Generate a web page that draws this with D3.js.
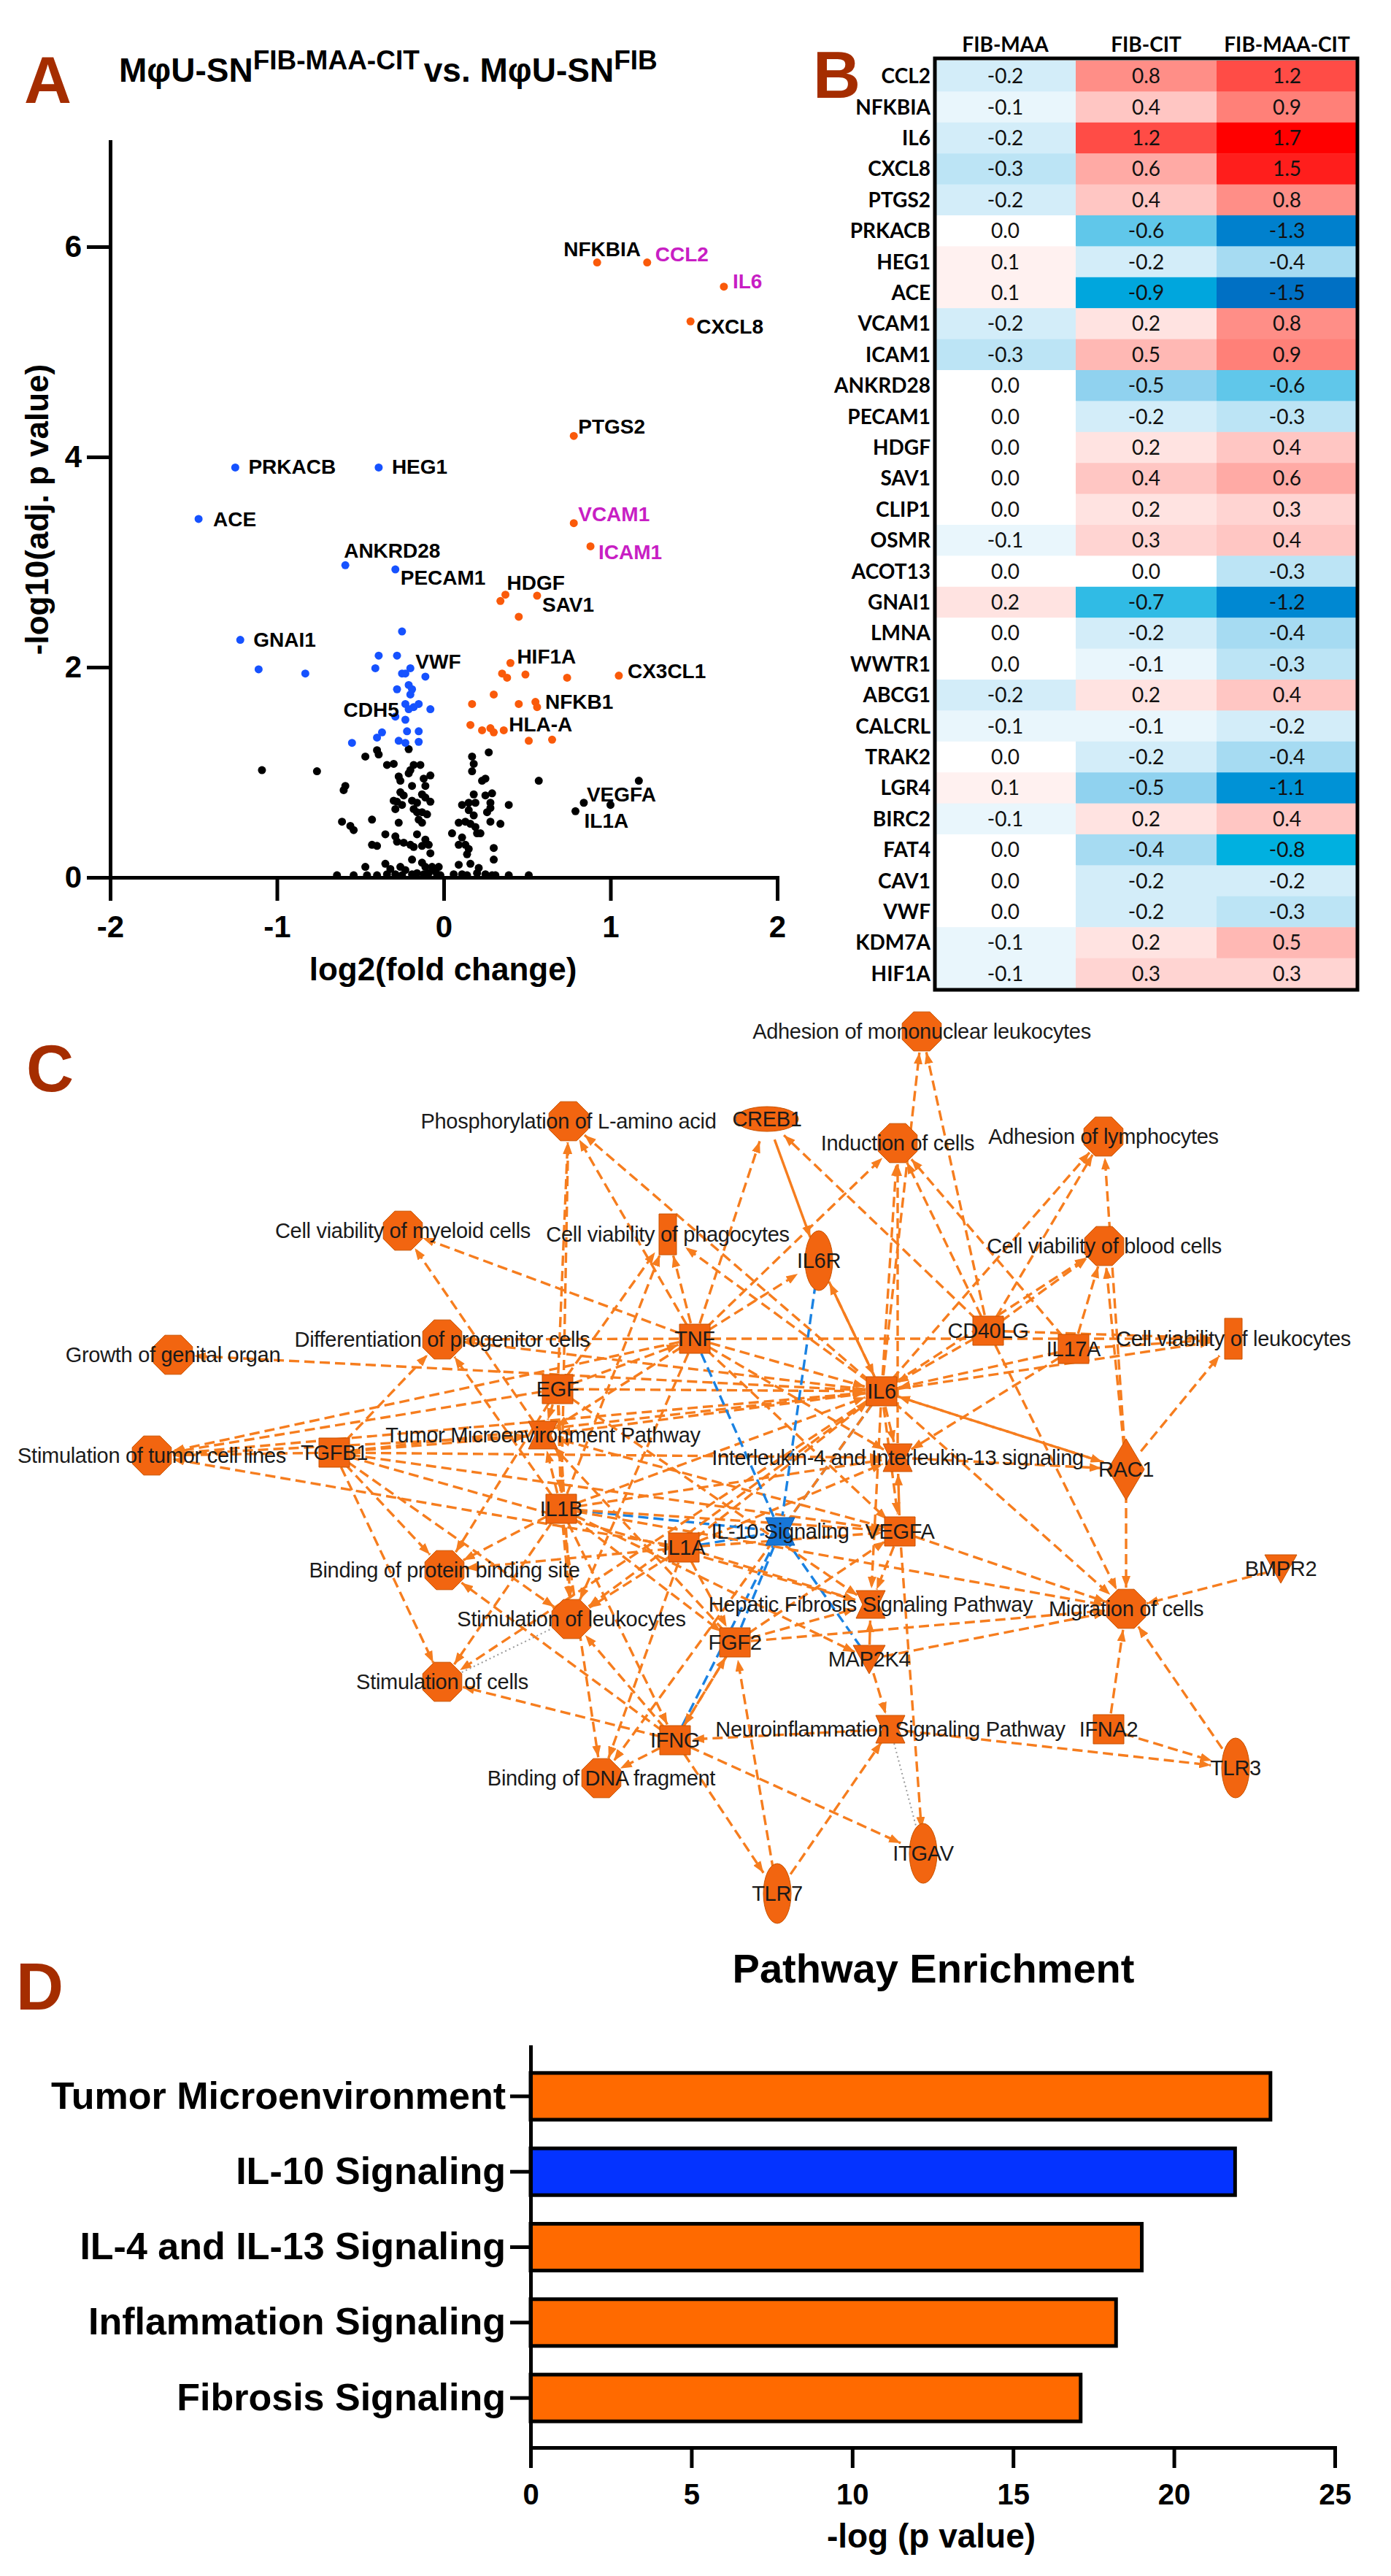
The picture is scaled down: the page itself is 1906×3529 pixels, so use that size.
<!DOCTYPE html>
<html>
<head>
<meta charset="utf-8">
<script src="https://cdn.jsdelivr.net/npm/d3@7"></script>
<style>
body{margin:0;background:#fff}
svg{display:block}
</style>
</head>
<body>
<script>
// ---------- panel A : volcano ----------
// [log2 fold change, -log10 adj p, label]
const upGenes = [
  [0.92,5.85,"NFKBIA"],[1.22,5.85,"CCL2"],[1.68,5.62,"IL6"],[1.48,5.29,"CXCL8"],
  [0.78,4.20,"PTGS2"],[0.78,3.37,"VCAM1"],[0.88,3.15,"ICAM1"],[0.37,2.69,"HDGF"],
  [0.34,2.63],[0.56,2.68,"SAV1"],[0.45,2.48],[0.40,2.04,"HIF1A"],
  [0.35,1.94],[0.38,1.90],[0.49,1.93],[0.74,1.90],[1.05,1.92,"CX3CL1"],
  [0.30,1.74],[0.17,1.65],[0.45,1.65],[0.55,1.67],[0.56,1.62,"NFKB1"],
  [0.16,1.45],[0.23,1.40],[0.28,1.42],[0.30,1.38],[0.36,1.40,"HLA-A"],
  [0.51,1.30],[0.65,1.31]
]
const downGenes = [
  [-1.25,3.90,"PRKACB"],[-0.39,3.90,"HEG1"],[-1.47,3.41,"ACE"],[-0.59,2.97,"ANKRD28"],
  [-0.29,2.93,"PECAM1"],[-0.25,2.34],[-1.22,2.26,"GNAI1"],[-0.39,2.11],[-0.28,2.11],
  [-0.41,1.99],[-0.20,1.99,"VWF"],[-0.25,1.94],[-0.23,1.94],[-0.11,1.91],
  [-1.11,1.98],[-0.83,1.94],[-0.28,1.79],[-0.21,1.83],[-0.19,1.79],[-0.20,1.74],
  [-0.23,1.65],[-0.15,1.65],[-0.18,1.62],[-0.21,1.60],[-0.08,1.60],
  [-0.29,1.53,"CDH5"],[-0.23,1.50],[-0.37,1.38],[-0.40,1.33],[-0.22,1.39],[-0.15,1.39],
  [-0.27,1.30],[-0.23,1.28],[-0.15,1.29],[-0.55,1.28]
]
const nsGenes = [
  [-1.09,1.02],[-0.76,1.01],[1.17,0.92],[0.84,0.71,"VEGFA"],[1.00,0.69],[0.79,0.63,"IL1A"],[0.57,0.92],
  [-0.47,1.15],[-0.40,1.21],[-0.39,1.17],[-0.21,1.22],[-0.34,1.07],[-0.30,1.08],[-0.18,1.07],
  [-0.14,1.07],[-0.20,1.02],[-0.21,0.99],[-0.08,0.97],[-0.27,0.96],[-0.26,0.92],[-0.12,0.94],
  [-0.11,0.87],[-0.19,0.87],[-0.59,0.87],[-0.60,0.83],[-0.26,0.81],[-0.24,0.78],[-0.30,0.73],
  [-0.28,0.72],[-0.19,0.73],[-0.16,0.71],[-0.13,0.79],[-0.11,0.76],[-0.08,0.72],[-0.29,0.65],
  [-0.25,0.69],[-0.18,0.65],[-0.16,0.62],[-0.13,0.62],[-0.10,0.60],[-0.15,0.55],[-0.13,0.52],
  [-0.61,0.53],[-0.56,0.49],[-0.54,0.45],[-0.43,0.55],[-0.27,0.52],[-0.35,0.41],[-0.29,0.39],
  [-0.16,0.41],[-0.11,0.36],[-0.09,0.31],[-0.08,0.23],[-0.28,0.34],[-0.24,0.33],[-0.20,0.31],
  [-0.18,0.29],[-0.43,0.31],[-0.40,0.30],[-0.13,0.30],[-0.19,0.17],[-0.47,0.10],[-0.35,0.13],
  [-0.32,0.08],[-0.26,0.10],[-0.23,0.07],[-0.13,0.14],[-0.11,0.10],[-0.07,0.10],[-0.05,0.06],
  [-0.03,0.10],[-0.64,0.02],[-0.54,0.02],[-0.46,0.02],[-0.40,0.02],[-0.34,0.03],[-0.29,0.03],
  [-0.25,0.02],[-0.19,0.03],[-0.16,0.04],[-0.12,0.03],[-0.09,0.04],[-0.04,0.03],[-0.02,0.02],
  [0.27,1.19],[0.17,1.15],[0.18,1.08],[0.17,1.01],[0.23,0.92],[0.25,0.94],[0.18,0.79],
  [0.25,0.78],[0.29,0.80],[0.11,0.69],[0.15,0.71],[0.19,0.71],[0.28,0.71],[0.28,0.66],
  [0.26,0.62],[0.39,0.69],[0.15,0.64],[0.18,0.59],[0.09,0.52],[0.13,0.53],[0.16,0.51],
  [0.28,0.53],[0.34,0.51],[0.19,0.48],[0.20,0.42],[0.22,0.42],[0.05,0.42],[0.11,0.38],
  [0.09,0.31],[0.13,0.31],[0.15,0.27],[0.14,0.22],[0.30,0.28],[0.30,0.17],[0.16,0.13],
  [0.09,0.12],[0.21,0.09],[0.06,0.03],[0.11,0.03],[0.14,0.02],[0.20,0.04],[0.25,0.03],
  [0.29,0.02],[0.31,0.02],[0.39,0.02],[0.51,0.02]
]
const highlightGenes = ["CCL2","IL6","VCAM1","ICAM1"]
const volcanoXTicks = [-2,-1,0,1,2]
const volcanoYTicks = [0,2,4,6]

// ---------- panel B : heatmap ----------
const heatGenes = ["CCL2","NFKBIA","IL6","CXCL8","PTGS2","PRKACB","HEG1","ACE","VCAM1","ICAM1",
  "ANKRD28","PECAM1","HDGF","SAV1","CLIP1","OSMR","ACOT13","GNAI1","LMNA","WWTR1","ABCG1",
  "CALCRL","TRAK2","LGR4","BIRC2","FAT4","CAV1","VWF","KDM7A","HIF1A"]
const heatConditions = ["FIB-MAA","FIB-CIT","FIB-MAA-CIT"]
const fibMaa    = [-0.2,-0.1,-0.2,-0.3,-0.2,0.0,0.1,0.1,-0.2,-0.3,0.0,0.0,0.0,0.0,0.0,-0.1,0.0,0.2,0.0,0.0,-0.2,-0.1,0.0,0.1,-0.1,0.0,0.0,0.0,-0.1,-0.1]
const fibCit    = [0.8,0.4,1.2,0.6,0.4,-0.6,-0.2,-0.9,0.2,0.5,-0.5,-0.2,0.2,0.4,0.2,0.3,0.0,-0.7,-0.2,-0.1,0.2,-0.1,-0.2,-0.5,0.2,-0.4,-0.2,-0.2,0.2,0.3]
const fibMaaCit = [1.2,0.9,1.7,1.5,0.8,-1.3,-0.4,-1.5,0.8,0.9,-0.6,-0.3,0.4,0.6,0.3,0.4,-0.3,-1.2,-0.4,-0.3,0.4,-0.2,-0.4,-1.1,0.4,-0.8,-0.2,-0.3,0.5,0.3]

// ---------- panel C : network ----------
// [id, label, shape]
const netNodes = [
  ["phos","Phosphorylation of L-amino acid","oct"],["creb1","CREB1","ellH"],
  ["admono","Adhesion of mononuclear leukocytes","oct"],["induc","Induction of cells","oct"],
  ["adlym","Adhesion of lymphocytes","oct"],["cvmye","Cell viability of myeloid cells","oct"],
  ["cvphag","Cell viability of phagocytes","tall"],["il6r","IL6R","ellV"],
  ["cvblood","Cell viability of blood cells","oct"],["growth","Growth of genital organ","oct"],
  ["diff","Differentiation of progenitor cells","oct"],["tnf","TNF","sq"],["cd40lg","CD40LG","sq"],
  ["il17a","IL17A","sq"],["cvleuk","Cell viability of leukocytes","tall"],["egf","EGF","sq"],
  ["il6","IL6","sq"],["stimtum","Stimulation of tumor cell lines","oct"],["tgfb1","TGFB1","sq"],
  ["tme","Tumor Microenvironment Pathway","hg"],["il413","Interleukin-4 and Interleukin-13 signaling","hg"],
  ["rac1","RAC1","dia"],["il1b","IL1B","sq"],["il1a","IL1A","sq"],["il10","IL-10 Signaling","hgBlue"],
  ["vegfa","VEGFA","sq"],["bmpr2","BMPR2","tri"],["bind","Binding of protein binding site","oct"],
  ["hepfib","Hepatic Fibrosis Signaling Pathway","hg"],["migr","Migration of cells","oct"],
  ["stimleuk","Stimulation of leukocytes","oct"],["fgf2","FGF2","sq"],["map2k4","MAP2K4","tri"],
  ["stimcells","Stimulation of cells","oct"],["neuro","Neuroinflammation Signaling Pathway","hg"],
  ["ifna2","IFNA2","sq"],["ifng","IFNG","sq"],["tlr3","TLR3","ellV"],
  ["bindDNA","Binding of DNA fragment","oct"],["itgav","ITGAV","ellV"],["tlr7","TLR7","ellV"]
]
// layout of the network drawing (panel units)
const netLayout = {
  phos:[779,166],creb1:[1051,163],admono:[1263,43],induc:[1230,196],adlym:[1512,187],
  cvmye:[552,316],cvphag:[915,321],il6r:[1122,357],cvblood:[1513,337],growth:[237,486],
  diff:[606,465],tnf:[952,464],cd40lg:[1354,453],il17a:[1471,478],cvleuk:[1690,464],
  egf:[764,533],il6:[1208,536],stimtum:[208,624],tgfb1:[458,620],tme:[744,596],
  il413:[1230,627],rac1:[1543,643],il1b:[769,697],il1a:[937,750],il10:[1069,728],
  vegfa:[1233,728],bmpr2:[1755,779],bind:[609,781],hepfib:[1193,828],migr:[1543,834],
  stimleuk:[783,848],fgf2:[1007,880],map2k4:[1191,903],stimcells:[606,934],neuro:[1220,999],
  ifna2:[1519,999],ifng:[925,1014],tlr3:[1693,1052],bindDNA:[824,1066],itgav:[1265,1169],
  tlr7:[1065,1224]
}
// [source, target, kind]  d = dashed arrow, s = solid arrow, b = blue, g = dotted grey
const netEdges = [
  ["egf","phos","d"],["tnf","phos","d"],["il6","phos","d"],["il1b","phos","d"],
  ["tnf","creb1","d"],["cd40lg","creb1","d"],["creb1","il6r","s"],
  ["il6","admono","d"],["cd40lg","admono","d"],
  ["il6","induc","d"],["il413","induc","d"],["tnf","induc","d"],["cd40lg","induc","d"],["il17a","induc","d"],
  ["cd40lg","adlym","d"],["il6","adlym","d"],["rac1","adlym","d"],
  ["il6","cvblood","d"],["cd40lg","cvblood","d"],["rac1","cvblood","d"],["il17a","cvblood","d"],
  ["tme","cvmye","d"],["tnf","cvmye","d"],
  ["il1b","cvphag","d"],["tnf","cvphag","d"],["il6","cvphag","d"],["egf","cvphag","d"],
  ["il6","growth","d"],
  ["tnf","diff","d"],["tgfb1","diff","d"],["il1b","diff","d"],["il6","diff","d"],
  ["egf","stimtum","d"],["tnf","stimtum","d"],["il6","stimtum","d"],["tme","stimtum","d"],["il1a","stimtum","d"],["tgfb1","stimtum","d"],
  ["tgfb1","il6","d"],["tgfb1","tme","d"],["tgfb1","bind","d"],["tgfb1","stimleuk","d"],["tgfb1","il413","d"],["tgfb1","vegfa","d"],["tgfb1","hepfib","d"],
  ["egf","tme","d"],["egf","il6","d"],["egf","il1b","d"],["egf","tnf","d"],["egf","bind","d"],["egf","stimleuk","d"],
  ["il6","tme","d"],["tnf","tme","d"],["il1b","tme","d"],["vegfa","tme","d"],["fgf2","tme","d"],
  ["tnf","il6","d"],["il1b","il6","d"],["il1a","il6","d"],["il6r","il6","s"],["cd40lg","il6","d"],["il17a","il6","d"],["rac1","il6","d"],
  ["il6","il413","d"],["il1b","il413","d"],["tnf","il413","d"],["vegfa","il413","s"],["il17a","il413","d"],["il1a","il413","d"],
  ["tnf","il10","b"],["il6","il10","b"],["il6r","il10","b"],["il1b","il10","b"],["il1a","il10","b"],["fgf2","il10","b"],["map2k4","il10","b"],["ifng","il10","b"],
  ["il6","vegfa","d"],["il1b","vegfa","d"],["tnf","vegfa","d"],["il1a","vegfa","d"],["fgf2","vegfa","d"],
  ["vegfa","hepfib","d"],["il1a","hepfib","d"],["fgf2","hepfib","d"],["map2k4","hepfib","s"],["il6","hepfib","d"],["egf","hepfib","d"],
  ["vegfa","migr","d"],["il6","migr","d"],["rac1","migr","d"],["map2k4","migr","d"],["fgf2","migr","d"],["bmpr2","migr","d"],
  ["ifna2","migr","d"],["tlr3","migr","d"],["cd40lg","migr","d"],["il1b","migr","d"],
  ["il1b","stimleuk","d"],["il1a","stimleuk","d"],["ifng","stimleuk","d"],["il6","stimleuk","d"],["tnf","stimleuk","d"],
  ["il1b","bind","d"],["il1a","bind","d"],["ifng","bind","d"],
  ["tgfb1","stimcells","d"],["il1b","stimcells","d"],["il6","stimcells","d"],["ifng","stimcells","d"],["stimleuk","stimcells","g"],
  ["il1b","fgf2","d"],["il1a","fgf2","d"],["tlr7","fgf2","d"],["ifng","fgf2","d"],
  ["il1b","map2k4","d"],["map2k4","neuro","d"],["tlr7","neuro","d"],["neuro","ifng","d"],["neuro","tlr3","d"],["ifna2","tlr3","d"],
  ["vegfa","itgav","d"],["ifng","itgav","d"],["neuro","itgav","g"],["ifng","tlr7","d"],
  ["il1b","bindDNA","d"],["ifng","bindDNA","d"],["il6","bindDNA","d"],["il1a","bindDNA","d"],
  ["il1b","ifng","d"],["fgf2","ifng","d"],
  ["il6","cvleuk","d"],["rac1","cvleuk","d"],["il17a","cvleuk","d"],["tnf","cvleuk","d"],["cd40lg","cvleuk","d"],
  ["il6","il6r","d"],["tnf","il6r","d"],["il6","rac1","d"],["il413","rac1","d"]
]

// ---------- panel D : pathway enrichment ----------
const pathways = ["Tumor Microenvironment","IL-10 Signaling","IL-4 and IL-13 Signaling","Inflammation Signaling","Fibrosis Signaling"]
const pathwayScores = [23.0,21.9,19.0,18.2,17.1]
const pathwayDirection = ["up","down","up","up","up"]
const enrichTicks = [0,5,10,15,20,25]

// ==========================================================
const W = 1906, H = 3529
const sans = "'Liberation Sans', Arial, Helvetica, sans-serif"
const svg = d3.select("body").append("svg")
  .attr("width", W).attr("height", H)
  .style("font-family", sans)

const orange = "#fa5a0a", blue = "#1652ff", magenta = "#c81ec4"

function panelLetter(t, x, y){
  svg.append("text").attr("x", x).attr("y", y).text(t)
    .attr("font-size", 90).attr("font-weight", "bold").attr("fill", "#a52d00")
}
panelLetter("A", 33, 141)
panelLetter("B", 1114, 134)
panelLetter("C", 36, 1495)
panelLetter("D", 22, 2753)

// ---------------- A ----------------
const gA = svg.append("g")
const xA = d3.scaleLinear().domain([-2, 2]).range([151, 1065])
const yA = d3.scaleLinear().domain([0, 7]).range([1202, 194])

const title = gA.append("text").attr("x", 163).attr("y", 112)
  .attr("font-size", 46).attr("font-weight", "bold")
title.append("tspan").text("MφU-SN")
title.append("tspan").attr("font-size", 37).attr("dy", -17).text("FIB-MAA-CIT")
title.append("tspan").attr("dy", 17).attr("dx", 6).text("vs. MφU-SN")
title.append("tspan").attr("font-size", 37).attr("dy", -17).text("FIB")

function styleAxis(g, w, fs){
  g.select(".domain").attr("stroke-width", w).attr("stroke-linecap", "square")
  g.selectAll(".tick line").attr("stroke-width", w)
  g.selectAll(".tick text").attr("font-size", fs).attr("font-weight", "bold")
    .attr("font-family", sans).attr("fill", "#000")
}
const intFmt = d => String(d)

gA.append("g").attr("transform", `translate(0,${yA(0)})`)
  .call(d3.axisBottom(xA).tickValues(volcanoXTicks).tickSize(32).tickSizeOuter(0).tickPadding(20).tickFormat(intFmt))
  .call(g => styleAxis(g, 5, 42))
gA.append("g").attr("transform", `translate(${xA(-2)},0)`)
  .call(d3.axisLeft(yA).tickValues(volcanoYTicks).tickSize(32).tickSizeOuter(0).tickPadding(7).tickFormat(intFmt))
  .call(g => styleAxis(g, 5, 42))

gA.append("text").attr("x", 607).attr("y", 1343).attr("text-anchor", "middle")
  .attr("font-size", 44).attr("font-weight", "bold").text("log2(fold change)")
gA.append("text").attr("transform", "translate(66,698) rotate(-90)").attr("text-anchor", "middle")
  .attr("font-size", 44).attr("font-weight", "bold").text("-log10(adj. p value)")

const groups = [[nsGenes, "#000"], [downGenes, blue], [upGenes, orange]]
groups.forEach(([arr, col]) => {
  gA.append("g").selectAll("circle").data(arr).join("circle")
    .attr("cx", d => xA(d[0])).attr("cy", d => yA(d[1])).attr("r", 5.5).attr("fill", col)
})

// label offsets relative to the point
const labelOffsets = {
  NFKBIA:[-46,-9], CCL2:[11,-2], IL6:[12,2], CXCL8:[8,17], PTGS2:[6,-3], PRKACB:[18,9],
  HEG1:[18,9], ACE:[20,10], VCAM1:[6,-3], ICAM1:[11,18], ANKRD28:[-2,-10], PECAM1:[7,21],
  HDGF:[2,-7], SAV1:[7,22], GNAI1:[18,9], VWF:[7,1], CDH5:[5,0,"end"], HIF1A:[9,1],
  CX3CL1:[12,3], NFKB1:[11,2], "HLA-A":[7,2], VEGFA:[4,-2], IL1A:[12,23]
}
const labelled = [...upGenes, ...downGenes, ...nsGenes].filter(d => d[2])
gA.append("g").selectAll("text").data(labelled).join("text")
  .attr("x", d => xA(d[0]) + labelOffsets[d[2]][0])
  .attr("y", d => yA(d[1]) + labelOffsets[d[2]][1])
  .attr("text-anchor", d => labelOffsets[d[2]][2] || "start")
  .attr("font-size", 28).attr("font-weight", "bold")
  .attr("fill", d => highlightGenes.includes(d[2]) ? magenta : "#000")
  .text(d => d[2])

// ---------------- B ----------------
const gB = svg.append("g").style("font-family", "Lato, 'Open Sans', sans-serif")
const xB = d3.scaleBand().domain(heatConditions).range([1281, 1860])
const yB = d3.scaleBand().domain(heatGenes).range([83, 1355])
const heatColor = d3.scaleLinear()
  .domain([-1.5, -1.2, -0.8, -0.5, 0, 0.5, 0.9, 1.2, 1.7])
  .range(["#0070c4", "#0088d2", "#00b0e0", "#90d2ef", "#ffffff", "#ffb8b4", "#ff8078", "#ff4c46", "#ff0000"])
const heatSeries = [fibMaa, fibCit, fibMaaCit]
const cells = []
heatGenes.forEach((g, i) => heatConditions.forEach((c, j) => cells.push({g, c, v: heatSeries[j][i]})))

gB.append("g").selectAll("rect").data(cells).join("rect")
  .attr("x", d => xB(d.c)).attr("y", d => yB(d.g))
  .attr("width", xB.bandwidth() + 0.5).attr("height", yB.bandwidth() + 0.5)
  .attr("fill", d => heatColor(d.v))
gB.append("g").selectAll("text").data(cells).join("text")
  .attr("x", d => xB(d.c) + xB.bandwidth() / 2).attr("y", d => yB(d.g) + yB.bandwidth() / 2 + 10)
  .attr("text-anchor", "middle").attr("font-size", 28).attr("fill", "#111")
  .text(d => d3.format(".1f")(d.v).replace("−", "-"))
gB.append("rect").attr("x", 1281).attr("y", 80).attr("width", 579).attr("height", 1276)
  .attr("fill", "none").attr("stroke", "#000").attr("stroke-width", 5)
gB.append("g").selectAll("text").data(heatGenes).join("text")
  .attr("x", 1275).attr("y", d => yB(d) + yB.bandwidth() / 2 + 10)
  .attr("text-anchor", "end").attr("font-size", 28).attr("font-weight", "bold").text(d => d)
gB.append("g").selectAll("text").data(heatConditions).join("text")
  .attr("x", d => xB(d) + xB.bandwidth() / 2).attr("y", 71)
  .attr("text-anchor", "middle").attr("font-size", 28).attr("font-weight", "bold").text(d => d)

// ---------------- C ----------------
const gC = svg.append("g")
const xC = d3.scaleLinear().domain([0, 1906]).range([0, 1906])
const yC = d3.scaleLinear().domain([0, 1250]).range([1370, 2620])
const edgeOrange = "#f67d1e", nodeOrange = "#f26510"
const defs = svg.append("defs")
defs.append("marker").attr("id", "arr").attr("viewBox", "0 0 16 12")
  .attr("refX", 16).attr("refY", 6).attr("markerWidth", 16).attr("markerHeight", 12)
  .attr("markerUnits", "userSpaceOnUse").attr("orient", "auto")
  .append("path").attr("d", "M0,0L16,6L0,12Z").attr("fill", edgeOrange)

const nodeR = {oct:27, sq:22, hg:20, hgBlue:20, ellH:30, ellV:32, tall:28, tri:20, dia:32}
const kindOf = Object.fromEntries(netNodes.map(n => [n[0], n[2]]))
const pos = id => [xC(netLayout[id][0]), yC(netLayout[id][1])]

gC.append("g").selectAll("line").data(netEdges).join("line")
  .each(function(e){
    const [x1, y1] = pos(e[0]), [x2, y2] = pos(e[1])
    const len = Math.hypot(x2 - x1, y2 - y1)
    const ux = (x2 - x1) / len, uy = (y2 - y1) / len
    const r1 = nodeR[kindOf[e[0]]], r2 = nodeR[kindOf[e[1]]] + 2
    d3.select(this).attr("x1", x1 + ux * r1).attr("y1", y1 + uy * r1)
      .attr("x2", x2 - ux * r2).attr("y2", y2 - uy * r2)
  })
  .attr("stroke", e => e[2] === "b" ? "#1a82e2" : e[2] === "g" ? "#9a9a9a" : edgeOrange)
  .attr("stroke-width", e => e[2] === "g" ? 2 : 3.4)
  .attr("stroke-dasharray", e => e[2] === "s" ? null : e[2] === "g" ? "2 4" : "14 7")
  .attr("marker-end", e => (e[2] === "d" || e[2] === "s") ? "url(#arr)" : null)

function octPath(r){
  return d3.range(8).map(k => {
    const a = Math.PI / 8 + k * Math.PI / 4
    return [r * Math.cos(a), r * Math.sin(a)]
  }).map((p, i) => (i ? "L" : "M") + p[0].toFixed(1) + "," + p[1].toFixed(1)).join("") + "Z"
}
const shapes = {
  oct: octPath(29),
  sq: "M-21,-20H21V20H-21Z",
  hg: "M-20,-19H20L11,0L20,19H-20L-11,0Z",
  hgBlue: "M-20,-19H20L11,0L20,19H-20L-11,0Z",
  tall: "M-12,-28H12V28H-12Z",
  tri: "M-22,-19H22L0,20Z",
  dia: "M0,-42L25,0L0,42L-25,0Z"
}
const nodeG = gC.append("g").selectAll("g").data(netNodes).join("g")
  .attr("transform", d => `translate(${pos(d[0])})`)
nodeG.each(function(d){
  const g = d3.select(this)
  const fill = d[2] === "hgBlue" ? "#1877d8" : nodeOrange
  if (d[2] === "ellH") g.append("ellipse").attr("rx", 43).attr("ry", 17)
    .attr("fill", fill).attr("stroke", "#c95300").attr("stroke-width", 1)
  else if (d[2] === "ellV") g.append("ellipse").attr("rx", 19).attr("ry", 41)
    .attr("fill", fill).attr("stroke", "#c95300").attr("stroke-width", 1)
  else g.append("path").attr("d", shapes[d[2]])
    .attr("fill", fill).attr("stroke", d[2] === "hgBlue" ? "#0d5fb0" : "#c95300").attr("stroke-width", 1)
})
nodeG.append("text").attr("y", 10).attr("text-anchor", "middle")
  .attr("font-size", 29).attr("fill", "#1a1a1a").attr("letter-spacing", -0.3)
  .text(d => d[1])

// ---------------- D ----------------
const gD = svg.append("g")
const xD = d3.scaleLinear().domain([0, 25]).range([727, 1829])
const yD = d3.scaleBand().domain(pathways).range([2804, 3353]).paddingInner(0.38).paddingOuter(0.347)

gD.append("text").attr("x", 1279).attr("y", 2716).attr("text-anchor", "middle")
  .attr("font-size", 56).attr("font-weight", "bold").text("Pathway Enrichment")

gD.append("g").selectAll("rect").data(pathways).join("rect")
  .attr("x", xD(0)).attr("y", d => yD(d))
  .attr("width", (d, i) => xD(pathwayScores[i]) - xD(0)).attr("height", yD.bandwidth())
  .attr("fill", (d, i) => pathwayDirection[i] === "up" ? "#ff6a00" : "#0433ff")
  .attr("stroke", "#000").attr("stroke-width", 5)

gD.append("g").attr("transform", `translate(0,3353)`)
  .call(d3.axisBottom(xD).tickValues(enrichTicks).tickSize(28).tickSizeOuter(0).tickPadding(22))
  .call(g => styleAxis(g, 5, 40))
gD.append("g").attr("transform", `translate(${xD(0)},0)`)
  .call(d3.axisLeft(yD).tickSize(28).tickSizeOuter(0).tickPadding(6))
  .call(g => styleAxis(g, 5, 52))
gD.append("text").attr("x", 1276).attr("y", 3490).attr("text-anchor", "middle")
  .attr("font-size", 46).attr("font-weight", "bold").text("-log (p value)")
</script>
</body>
</html>
